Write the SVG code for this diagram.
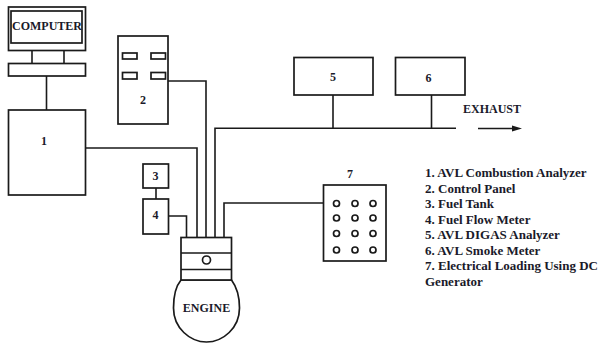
<svg xmlns="http://www.w3.org/2000/svg" width="598" height="347" viewBox="0 0 598 347">
<style>
.b{fill:#fff;stroke:#1a1a1a;stroke-width:1.7}
.l{fill:none;stroke:#1a1a1a;stroke-width:1.6}
.t{font-family:"Liberation Serif",serif;font-weight:bold;fill:#1a1a2a;font-size:12px}
.k{font-family:"Liberation Serif",serif;font-weight:bold;fill:#1a1a2a;font-size:13px}
</style>
<rect width="598" height="347" fill="#fff"/>
<g id="connectors">
<path class="l" d="M46.500 76V110M85 148H197V238M168 81H206V238M215 238V128.300H456M333 95V128M431.500 95V128M224 238V203H324M156 188V199M169 216H186.500V238"/>
<path class="l" d="M478 128.500H514"/>
<path d="M512 125.500L522 128.500L512 131.500Z" fill="#1a1a1a"/>
</g>
<g id="computer">
<rect class="b" x="8.500" y="7" width="77" height="43.500"/>
<rect class="b" x="11" y="11" width="71" height="32"/>
<path class="l" d="M32 50V63M64 50V63"/>
<rect class="b" x="8.500" y="63.500" width="77" height="12.500"/>
<text class="t" x="47" y="30" text-anchor="middle">COMPUTER</text>
</g>
<g id="node-1"><rect class="b" x="8.500" y="110" width="77" height="85"/><text class="t" x="44" y="145" text-anchor="middle">1</text></g>
<g id="node-2"><rect class="b" x="118" y="36" width="50" height="88"/>
<rect class="b" x="122.500" y="53" width="14.500" height="6"/><rect class="b" x="151" y="53" width="14.500" height="6"/><rect class="b" x="122.500" y="72.500" width="14.500" height="6.500"/><rect class="b" x="151" y="72.500" width="14.500" height="6.500"/>
<text class="t" x="143" y="104" text-anchor="middle">2</text></g>
<g id="node-3"><rect class="b" x="143" y="164" width="25.500" height="24"/><text class="t" x="155.500" y="180" text-anchor="middle">3</text></g>
<g id="node-4"><rect class="b" x="143" y="199" width="25.500" height="35"/><text class="t" x="155.500" y="219" text-anchor="middle">4</text></g>
<g id="node-5"><rect class="b" x="294" y="57.500" width="79" height="37.500"/><text class="t" x="333" y="81" text-anchor="middle">5</text></g>
<g id="node-6"><rect class="b" x="395.500" y="57.500" width="69.500" height="37.500"/><text class="t" x="428.500" y="82" text-anchor="middle">6</text></g>
<g id="engine">
<path class="b" d="M181 280C176 286 173.500 296 173.500 308C173.500 328 190 342 206.500 342C223 342 239.500 328 239.500 308C239.500 296 236 286 231.500 280Z"/>
<rect class="b" x="181" y="237.500" width="50.500" height="42.500"/>
<path class="l" d="M181 253H231.500M181 269.500H231.500"/>
<circle class="b" cx="206.500" cy="260" r="4"/>
<text class="t" x="206.500" y="312" text-anchor="middle">ENGINE</text>
</g>
<g id="node-7"><rect class="b" x="323.500" y="185" width="62.500" height="76"/><text class="t" x="350" y="178" text-anchor="middle">7</text>
<g fill="#fff" stroke="#1a1a1a" stroke-width="1.700">
<circle cx="336.500" cy="203.500" r="3"/><circle cx="355" cy="203.500" r="3"/><circle cx="373" cy="203.500" r="3"/>
<circle cx="336.500" cy="218" r="3"/><circle cx="355" cy="218" r="3"/><circle cx="373" cy="218" r="3"/>
<circle cx="336.500" cy="233.500" r="3"/><circle cx="355" cy="233.500" r="3"/><circle cx="373" cy="233.500" r="3"/>
<circle cx="336.500" cy="250" r="3"/><circle cx="355" cy="250" r="3"/><circle cx="373" cy="250" r="3"/>
</g></g>
<text class="t" x="463" y="113">EXHAUST</text>
<g id="legend">
<text class="k" x="425" y="177">1. AVL Combustion Analyzer</text>
<text class="k" x="425" y="193">2. Control Panel</text>
<text class="k" x="425" y="208">3. Fuel Tank</text>
<text class="k" x="425" y="224">4. Fuel Flow Meter</text>
<text class="k" x="425" y="239">5. AVL DIGAS Analyzer</text>
<text class="k" x="425" y="255">6. AVL Smoke Meter</text>
<text class="k" x="425" y="270">7. Electrical Loading Using DC</text>
<text class="k" x="425" y="286">Generator</text>
</g>
</svg>
